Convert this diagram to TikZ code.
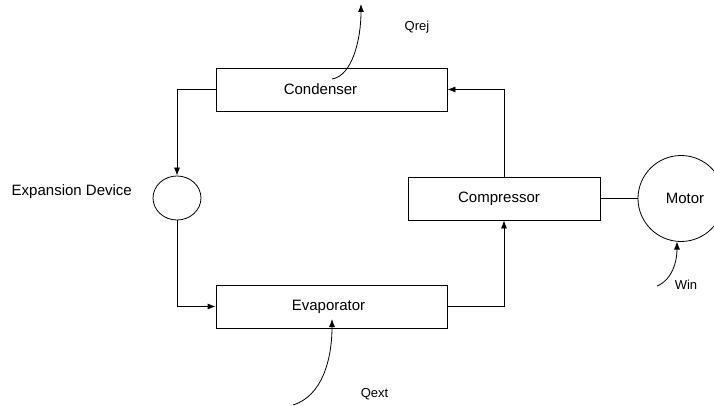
\documentclass[tikz,border=0pt]{standalone}
\usepackage{fontspec}
\setmainfont{Liberation Sans}
\usetikzlibrary{shapes.geometric,arrows.meta}
\tikzset{
  main/.style={font=\fontsize{15}{18}\selectfont},
  small/.style={font=\fontsize{13}{15}\selectfont},
  unit/.style={draw, line width=0.8pt, rectangle, inner sep=0pt},
  flow/.style={draw, line width=0.8pt, -{Latex[length=8pt,width=6pt]}},
  heat/.style={draw, line width=0.8pt, -{Latex[length=8pt,width=6pt]}},
}
\begin{document}
\begin{tikzpicture}[x=1pt,y=-1pt]
\useasboundingbox (0,0) rectangle (714,406);
% units
\node[unit, minimum width=231pt, minimum height=43pt,
  label={[main, xshift=-11pt]center:Condenser}] (cond) at (331.5,89.5) {};
\node[unit, minimum width=231pt, minimum height=43pt,
  label={[main, xshift=-3pt]center:Evaporator}] (evap) at (331.5,306.5) {};
\node[unit, minimum width=192pt, minimum height=43pt,
  label={[main, xshift=-5pt]center:Compressor}] (comp) at (504,198.5) {};
\node[draw, line width=0.8pt, ellipse, minimum width=48pt, minimum height=44pt, inner sep=0pt] (exp) at (177,198) {};
\node[draw, line width=0.8pt, circle, minimum size=86pt, inner sep=0pt, main] (motor) at (681,198.5) {\hspace*{8pt}Motor};
% labels
\node[main, anchor=east, inner sep=0pt] (explabel) at (132,192) {Expansion Device};
\node[small] (qrej) at (417,27) {Qrej};
\node[small] (qext) at (374.5,394) {Qext};
\node[small] (win) at (686,285) {Win};
% refrigerant loop
\draw[flow] (cond.west) -| (exp.north);
\draw[flow] (exp.south) |- (evap.west);
\draw[flow] (evap.east) -| (comp.south);
\draw[flow] (comp.north) |- (cond.east);
\draw[line width=0.8pt] (comp.east) -- (motor.west);
% heat and work
\coordinate (qrejstart) at (332,79);
\coordinate (qrejend) at (361,4);
\draw[heat] (qrejstart) .. controls (352,76) and (361,40) .. (qrejend);
\coordinate (qextstart) at (293,405);
\coordinate (qextend) at (332,319);
\draw[heat] (qextstart) .. controls (322,396) and (332,360) .. (qextend);
\coordinate (winstart) at (657,286);
\coordinate (winend) at (677,241.5);
\draw[heat] (winstart) .. controls (672,280) and (677,262) .. (winend);
\end{tikzpicture}
\end{document}
